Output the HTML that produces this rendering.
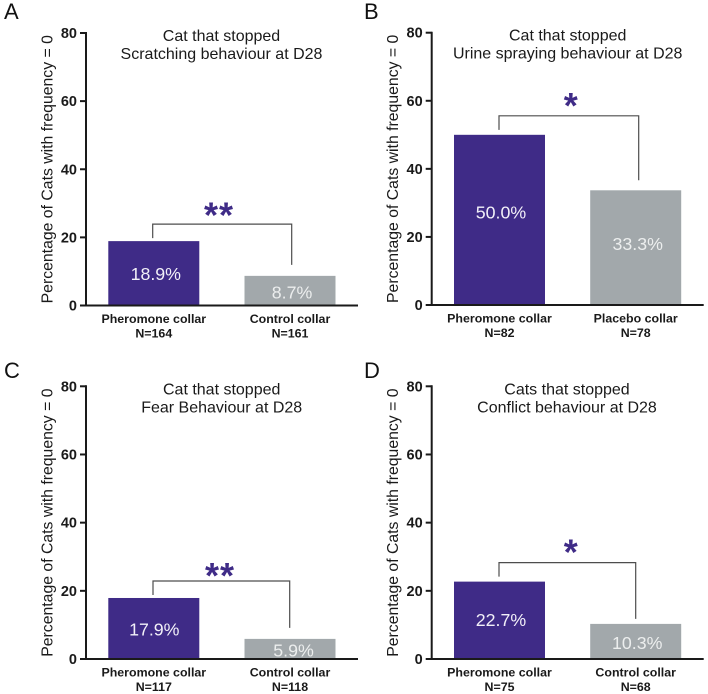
<!DOCTYPE html>
<html lang="en">
<head>
<meta charset="utf-8">
<title>Cats that stopped problem behaviours at D28</title>
<style>
html,body{margin:0;padding:0;background:#fff;width:708px;height:694px;overflow:hidden}
svg{display:block}
text{font-family:"Liberation Sans",Arial,sans-serif}
</style>
</head>
<body>
<svg id="figure" xmlns="http://www.w3.org/2000/svg" width="708" height="694" viewBox="0 0 708 694"></svg>
<script>
const panelLetters = ["A", "B", "C", "D"];
const titleFirstLines = ["Cat that stopped", "Cat that stopped", "Cat that stopped", "Cats that stopped"];
const titleSecondLines = ["Scratching behaviour at D28", "Urine spraying behaviour at D28", "Fear Behaviour at D28", "Conflict behaviour at D28"];
const yAxisTitle = "Percentage of Cats with frequency = 0";
const yTicks = [0, 20, 40, 60, 80];
const yMax = 80;
const treatmentCategories = ["Pheromone collar", "Pheromone collar", "Pheromone collar", "Pheromone collar"];
const comparatorCategories = ["Control collar", "Placebo collar", "Control collar", "Control collar"];
const treatmentCounts = ["N=164", "N=82", "N=117", "N=75"];
const comparatorCounts = ["N=161", "N=78", "N=118", "N=68"];
const treatmentValues = [18.9, 50.0, 17.9, 22.7];
const comparatorValues = [8.7, 33.7, 5.9, 10.3];
const treatmentPrinted = ["18.9%", "50.0%", "17.9%", "22.7%"];
const comparatorPrinted = ["8.7%", "33.3%", "5.9%", "10.3%"];
const significance = ["**", "*", "**", "*"];

const svg = document.getElementById("figure");
const NS = "http://www.w3.org/2000/svg";

function make(tag, attrs, content) {
  const el = document.createElementNS(NS, tag);
  for (const k in attrs) el.setAttribute(k, attrs[k]);
  if (content !== undefined) el.textContent = content;
  return el;
}

function drawPanel(i, L) {
  const y = v => L.y0 - v / yMax * (L.y0 - L.y80);
  const key = panelLetters[i].toLowerCase();

  const g = make("g", {});
  
  
  svg.appendChild(g);

  const letter = make("text", {x: L.letterX, y: L.letterY, "font-size": 22, fill: "#111"}, panelLetters[i]);
  
  
  g.appendChild(letter);

  const t1 = make("text", {x: L.titleX, y: L.y80 + 8, "text-anchor": "middle", "font-size": 16, fill: "#1a1a1a"}, titleFirstLines[i]);
  
  
  g.appendChild(t1);

  const t2 = make("text", {x: L.titleX, y: L.y80 + 26, "text-anchor": "middle", "font-size": 16, fill: "#1a1a1a"}, titleSecondLines[i]);
  
  
  g.appendChild(t2);

  const yMid = (L.y0 + L.y80) / 2;
  const yt = make("text", {x: 0, y: 0, transform: "translate(" + (L.ax - 33.5) + " " + yMid + ") rotate(-90)", "text-anchor": "middle", "font-size": 15.8, fill: "#1a1a1a"}, yAxisTitle);
  
  
  g.appendChild(yt);

  const barW = 91;
  const x1 = L.ax + 22.3;
  const x2 = L.ax + 158.5;

  const bar1 = make("rect", {x: x1, y: y(treatmentValues[i]), width: barW, height: L.y0 - y(treatmentValues[i]), fill: "#3f2b87"});
  
  
  g.appendChild(bar1);

  const bar2 = make("rect", {x: x2, y: y(comparatorValues[i]), width: barW, height: L.y0 - y(comparatorValues[i]), fill: "#a2a8ab"});
  
  
  g.appendChild(bar2);

  const v1 = make("text", {x: x1 + barW / 2 + L.v1dx, y: (y(treatmentValues[i]) + L.y0) / 2 + L.v1dy + 6.5, "text-anchor": "middle", "font-size": 17.8, fill: "#f2f0f8"}, treatmentPrinted[i]);
  
  
  g.appendChild(v1);

  const v2 = make("text", {x: x2 + barW / 2 + L.v2dx, y: (y(comparatorValues[i]) + L.y0) / 2 + L.v2dy + 6.5, "text-anchor": "middle", "font-size": 17.8, fill: "#eceeee"}, comparatorPrinted[i]);
  
  
  g.appendChild(v2);

  const leftEnd = y(treatmentValues[i]) - L.gapL;
  const rightEnd = y(comparatorValues[i]) - L.gapR;
  const top = leftEnd - 14;
  const bracket = make("path", {d: "M" + L.brL + " " + leftEnd + "V" + top + "H" + L.brR + "V" + rightEnd, fill: "none", stroke: "#4d4d4d", "stroke-width": 1.2});
  
  
  g.appendChild(bracket);

  const star = make("text", {x: L.starX, y: top - L.starUp + 18, "text-anchor": "middle", "font-size": 36, "font-weight": "bold", fill: "#3f2b87", "letter-spacing": L.starGap}, significance[i]);
  
  
  g.appendChild(star);

  const yAxis = make("line", {x1: L.ax, x2: L.ax, y1: L.y80 - 1, y2: L.y0 + 1, stroke: "#1a1a1a", "stroke-width": 2});
  
  
  g.appendChild(yAxis);

  const xAxis = make("line", {x1: L.ax - 1, x2: L.ax + 272, y1: L.y0, y2: L.y0, stroke: "#1a1a1a", "stroke-width": 2});
  
  
  g.appendChild(xAxis);

  yTicks.forEach(function (v) {
    const tick = make("line", {x1: L.ax - 6, x2: L.ax, y1: y(v), y2: y(v), stroke: "#1a1a1a", "stroke-width": 2});
    
    
    g.appendChild(tick);

    const lab = make("text", {x: L.ax - 9, y: y(v) + 5, "text-anchor": "end", "font-size": 14.5, "font-weight": "bold", fill: "#1a1a1a"}, String(v));
    
    
    g.appendChild(lab);
  });

  const c1 = make("text", {x: x1 + barW / 2, y: L.y0 + 17.5, "text-anchor": "middle", "font-size": 12.4, "font-weight": "bold", fill: "#1a1a1a"}, treatmentCategories[i]);
  
  
  g.appendChild(c1);

  const n1 = make("text", {x: x1 + barW / 2, y: L.y0 + 32, "text-anchor": "middle", "font-size": 12.4, "font-weight": "bold", fill: "#1a1a1a"}, treatmentCounts[i]);
  
  
  g.appendChild(n1);

  const c2 = make("text", {x: x2 + barW / 2, y: L.y0 + 17.5, "text-anchor": "middle", "font-size": 12.4, "font-weight": "bold", fill: "#1a1a1a"}, comparatorCategories[i]);
  
  
  g.appendChild(c2);

  const n2 = make("text", {x: x2 + barW / 2, y: L.y0 + 32, "text-anchor": "middle", "font-size": 12.4, "font-weight": "bold", fill: "#1a1a1a"}, comparatorCounts[i]);
  
  
  g.appendChild(n2);
}

drawPanel(0, {ax: 86, y0: 305.5, y80: 33, letterX: 4, letterY: 19, titleX: 221.5, v1dx: 2, v1dy: 0, v2dx: 2, v2dy: 1.5, gapL: 3, gapR: 11, brL: 152.7, brR: 291.7, starX: 219, starUp: 14.5, starGap: 1});
drawPanel(1, {ax: 431.7, y0: 305, y80: 32.7, letterX: 364, letterY: 19, titleX: 567.7, v1dx: 1.5, v1dy: -8, v2dx: 2, v2dy: -4, gapL: 5, gapR: 10, brL: 499, brR: 638.7, starX: 570.7, starUp: 16, starGap: 0});
drawPanel(2, {ax: 86, y0: 659, y80: 386.3, letterX: 4, letterY: 378, titleX: 221.7, v1dx: 0.5, v1dy: 0.5, v2dx: 3.5, v2dy: 1, gapL: 3, gapR: 11, brL: 153, brR: 289.7, starX: 220, starUp: 11, starGap: 1});
drawPanel(3, {ax: 431.7, y0: 659, y80: 386.3, letterX: 364, letterY: 378, titleX: 567, v1dx: 1.5, v1dy: -1, v2dx: 1.5, v2dy: 1, gapL: 5, gapR: 5, brL: 499, brR: 635.7, starX: 570.7, starUp: 16, starGap: 0});
</script>
</body>
</html>
